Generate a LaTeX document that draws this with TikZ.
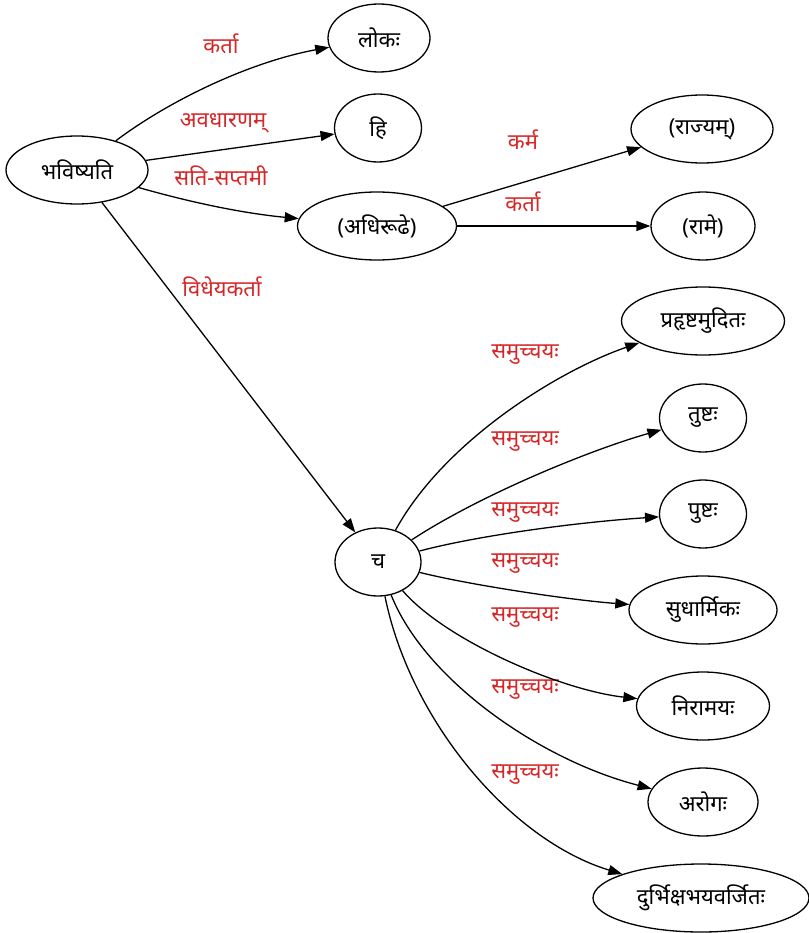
\documentclass[tikz,border=0pt]{standalone}
\usepackage{fontspec}
\setmainfont[Script=Devanagari]{Noto Sans}
\usepackage{xcolor}
\usetikzlibrary{shapes.geometric, arrows.meta}
\definecolor{relred}{RGB}{214,39,40}

\begin{document}
\begin{tikzpicture}[
    x=1pt, y=-1pt,
    word/.style={ellipse, draw, line width=1.3pt, inner sep=0pt, minimum height=68pt, font=\fontsize{22}{26}\selectfont},
    rel/.style={text=relred, font=\fontsize{22}{26}\selectfont},
    arrow/.style={line width=1.3pt, -{Triangle[length=14pt,width=10pt]}}
]
\useasboundingbox (0,0) rectangle (808,933);

% Nodes
\node[word, minimum width=142pt] (bhavishyati) at (77,170) {भविष्यति};
\node[word, minimum width=102pt] (lokah) at (379,38) {लोकः};
\node[word, minimum width=87pt] (hi) at (378,128) {हि};
\node[word, minimum width=159pt] (adhirudhe) at (377,226) {(अधिरूढे)};
\node[word, minimum width=142pt] (rajyam) at (702,129) {(राज्यम्)};
\node[word, minimum width=104pt] (rame) at (703,226) {(रामे)};
\node[word, minimum width=86pt] (ca) at (378,562) {च};
\node[word, minimum width=163pt] (prahrshta) at (703,321) {प्रहृष्टमुदितः};
\node[word, minimum width=87pt] (tushta) at (703,418) {तुष्टः};
\node[word, minimum width=87pt] (pushta) at (703,514) {पुष्टः};
\node[word, minimum width=148pt] (sudharmika) at (703,610) {सुधार्मिकः};
\node[word, minimum width=133pt] (niramaya) at (703,706) {निरामयः};
\node[word, minimum width=110pt] (aroga) at (703,802) {अरोगः};
\node[word, minimum width=216pt] (durbhiksha) at (701,898) {दुर्भिक्षभयवर्जितः};

% Relation labels
\node[rel] (kartaA) at (221,44) {कर्ता};
\node[rel] (avadharanam) at (223,123) {अवधारणम्};
\node[rel] (satisaptami) at (221,176) {सति-सप्तमी};
\node[rel] (karma) at (523,140) {कर्म};
\node[rel] (kartaB) at (523,202) {कर्ता};
\node[rel] (vidheya) at (222,287) {विधेयकर्ता};
\node[rel] (samA) at (525,355) {समुच्चयः};
\node[rel] (samB) at (525,442) {समुच्चयः};
\node[rel] (samC) at (525,513) {समुच्चयः};
\node[rel] (samD) at (525,564) {समुच्चयः};
\node[rel] (samE) at (525,618) {समुच्चयः};
\node[rel] (samF) at (525,690) {समुच्चयः};
\node[rel] (samG) at (525,775) {समुच्चयः};

% Edges
\draw[arrow] (bhavishyati) .. controls (170,100) and (250,62) .. (lokah);
\draw[arrow] (bhavishyati) -- (hi);
\draw[arrow] (bhavishyati) .. controls (200,205) and (250,214) .. (adhirudhe);
\draw[arrow] (adhirudhe) -- (rajyam);
\draw[arrow] (adhirudhe) -- (rame);
\draw[arrow] (bhavishyati) -- (ca);
\draw[arrow] (ca) .. controls (445,440) and (560,370) .. (prahrshta);
\draw[arrow] (ca) .. controls (480,495) and (590,450) .. (tushta);
\draw[arrow] (ca) .. controls (480,535) and (580,522) .. (pushta);
\draw[arrow] (ca) .. controls (470,585) and (570,600) .. (sudharmika);
\draw[arrow] (ca) .. controls (445,640) and (560,690) .. (niramaya);
\draw[arrow] (ca) .. controls (425,680) and (540,760) .. (aroga);
\draw[arrow] (ca) .. controls (410,720) and (510,840) .. (durbhiksha);

\end{tikzpicture}
\end{document}
